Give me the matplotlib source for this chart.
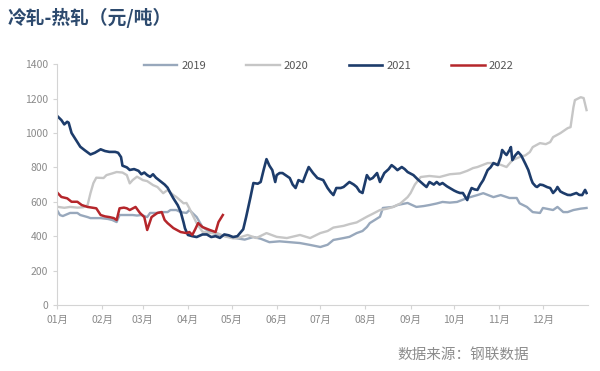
import matplotlib
matplotlib.use('Agg')
import matplotlib.pyplot as plt
import numpy as np

plt.rcParams['font.family'] = ['Noto Sans CJK SC', 'DejaVu Sans']

# day of year -> 冷轧-热轧 spread (元/吨)
d2019 = [0, 2, 4, 9, 14, 16, 21, 23, 30, 35, 38, 41, 43, 48, 52, 55, 58, 62, 64, 69, 71, 76, 78, 82, 85, 89, 91, 96, 100,
         105, 110, 116, 122, 129, 135, 140, 146, 153, 160, 167, 174, 181, 186, 190, 197, 201, 206, 210, 213, 215, 222,
         224, 231, 234, 241, 247, 252, 256, 261, 265, 270, 275, 282, 289, 293, 300, 305, 311, 316, 318, 323, 327, 332,
         334, 341, 344, 348, 351, 355, 360, 364]
v2019 = [552, 523, 517, 535, 535, 523, 511, 505, 505, 500, 494, 482, 523, 523, 523, 520, 523, 511, 535, 535, 540, 540, 552,
         552, 540, 535, 552, 511, 453, 425, 410, 400, 390, 380, 395, 385, 365, 370, 365, 360, 349, 337, 350, 378, 389,
         396, 418, 430, 453, 476, 513, 564, 570, 581, 593, 570, 575, 581, 590, 599, 595, 599, 622, 639, 650, 627, 639, 622,
         622, 591, 570, 540, 535, 564, 552, 570, 540, 540, 552, 560, 564]

d2020 = [0, 5, 9, 14, 18, 21, 23, 25, 27, 32, 34, 38, 41, 45, 48, 50, 52, 55, 59, 62, 66, 69, 73, 76, 80, 82, 87, 89, 91,
         96, 100, 105, 110, 115, 121, 124, 131, 137, 144, 151, 158, 167, 174, 181, 186, 190, 197, 201, 206, 213, 217, 222,
         227, 231, 236, 241, 243, 246, 250, 256, 263, 270, 277, 282, 286, 289, 296, 300, 305, 309, 313, 318, 322, 325, 327,
         332, 336, 339, 341, 346, 351, 353, 355, 356, 360, 362, 364]
v2020 = [571, 565, 570, 566, 568, 580, 650, 708, 740, 738, 755, 765, 773, 770, 755, 707, 726, 746, 726, 720, 697, 686, 650,
         668, 639, 628, 591, 593, 562, 475, 426, 418, 418, 400, 387, 389, 407, 389, 418, 396, 389, 407, 389, 418, 430, 450,
         460, 470, 480, 513, 530, 552, 560, 570, 590, 627, 650, 700, 744, 750, 744, 760, 765, 780, 796, 802, 825, 825, 815,
         802, 842, 860, 870, 889, 918, 941, 935, 947, 976, 999, 1028, 1034, 1150, 1191, 1208, 1203, 1133]

d2021 = [0, 3, 5, 7, 8, 10, 13, 16, 19, 23, 26, 30, 33, 36, 40, 42, 44, 45, 48, 50, 53, 56, 58, 60, 62, 64, 66, 68, 71, 74,
         76, 78, 80, 83, 85, 87, 88, 90, 93, 96, 100, 103, 106, 109, 112, 115, 118, 121, 124, 126, 128, 130, 133, 135, 138,
         140, 142, 144, 146, 148, 150, 151, 153, 155, 158, 160, 162, 164, 166, 169, 171, 173, 176, 179, 183, 186, 188, 190,
         192, 195, 197, 201, 204, 206, 208, 210, 213, 215, 217, 220, 222, 225, 228, 230, 232, 234, 237, 239, 241, 245, 248,
         250, 252, 254, 256, 259, 261, 263, 265, 268, 270, 273, 275, 277, 279, 282, 283, 285, 287, 289, 291, 293, 296, 298,
         300, 303, 305, 306, 308, 309, 311, 312, 313, 315, 317, 319, 320, 322, 324, 326, 327, 329, 330, 332, 334, 337, 339,
         340, 341, 343, 344, 346, 348, 351, 353, 355, 357, 359, 361, 363, 364]
v2021 = [1100, 1075, 1050, 1065, 1060, 1000, 960, 920, 900, 875, 885, 905, 895, 890, 890, 885, 860, 810, 800, 785, 790, 780,
         760, 770, 755, 745, 760, 740, 720, 700, 682, 650, 620, 580, 542, 480, 445, 407, 400, 395, 410, 410, 395, 400, 390,
         410, 405, 395, 400, 420, 440, 511, 627, 709, 705, 715, 784, 848, 810, 784, 715, 755, 767, 767, 750, 738, 700, 680,
         726, 715, 760, 802, 767, 738, 726, 680, 657, 639, 680, 680, 686, 715, 700, 686, 660, 651, 755, 730, 738, 767, 715,
         767, 790, 813, 800, 784, 802, 790, 773, 755, 730, 715, 700, 686, 715, 700, 715, 700, 709, 690, 680, 665, 657, 651,
         651, 610, 640, 680, 672, 669, 700, 726, 784, 800, 825, 813, 860, 901, 880, 872, 900, 918, 842, 870, 889, 870, 854,
         820, 784, 730, 709, 690, 686, 700, 697, 685, 680, 665, 651, 670, 686, 660, 651, 640, 639, 645, 651, 640, 639, 669,
         651]

d2022 = [0, 3, 7, 10, 14, 17, 21, 24, 27, 30, 33, 36, 39, 41, 43, 46, 48, 50, 54, 57, 60, 62, 65, 69, 72, 74, 76, 80, 85,
         89, 91, 93, 95, 97, 100, 105, 109, 111, 114]
v2022 = [655, 628, 620, 600, 600, 581, 570, 566, 562, 523, 515, 511, 505, 494, 562, 566, 562, 552, 570, 535, 511, 436, 511,
         535, 540, 494, 476, 447, 424, 418, 424, 407, 440, 476, 453, 436, 424, 482, 523]

months = ['01月', '02月', '03月', '04月', '05月', '06月', '07月', '08月', '09月', '10月', '11月', '12月']
month_start = [0, 31, 59, 90, 120, 151, 181, 212, 243, 273, 304, 334]

fig = plt.figure(figsize=(6, 3.71), dpi=100)
ax = fig.add_axes([0.095, 0.178, 0.885, 0.649])

ax.plot(d2019, v2019, color='#98a8bc', lw=1.7, label='2019')
ax.plot(d2020, v2020, color='#c6c6c6', lw=1.7, label='2020')
ax.plot(d2021, v2021, color='#1d3c6b', lw=1.9, label='2021')
ax.plot(d2022, v2022, color='#b5262b', lw=1.8, label='2022')

ax.set_xlim(0, 365)
ax.set_ylim(0, 1400)
ax.set_yticks(np.arange(0, 1401, 200))
ax.set_xticks(month_start)
ax.set_xticklabels(months)

for s in ['top', 'right']:
    ax.spines[s].set_visible(False)
for s in ['left', 'bottom']:
    ax.spines[s].set_color('#d4d4d4')
ax.tick_params(axis='both', colors='#d4d4d4', labelcolor='#8a8a8a', labelsize=7.5, length=3)
ax.tick_params(axis='x', pad=4)

fig.legend(loc='center', bbox_to_anchor=(0.548, 0.823), ncol=4, frameon=False, fontsize=8,
           handlelength=3, handletextpad=0.4, columnspacing=3.6, labelcolor='#555555')

fig.text(0.013, 0.951, '冷轧-热轧（元/吨）', fontsize=13.5, fontweight='bold', color='#2d4a6e', va='center', ha='left')
fig.text(0.772, 0.043, '数据来源：钢联数据', fontsize=10.5, color='#8c8c8c', va='center', ha='center')

fig.savefig('out.png', dpi=100)
